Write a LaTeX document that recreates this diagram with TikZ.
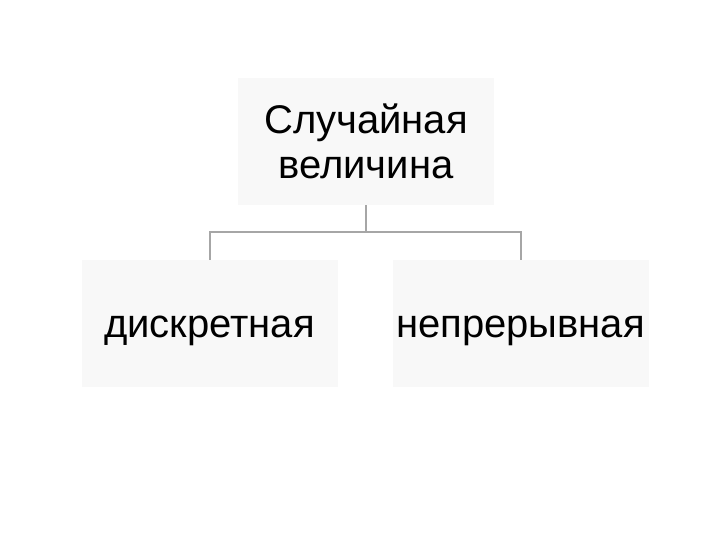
\documentclass[tikz,border=0pt]{standalone}
\usepackage{fontspec}
\setmainfont{Liberation Sans}
\begin{document}
\begin{tikzpicture}[x=1pt,y=1pt,
  box/.style={fill=boxgray, draw=none, minimum width=256pt, minimum height=127pt, inner sep=0pt, align=center, font=\fontsize{40}{45}\selectfont},
  leaf/.style={box, text height=32pt, text depth=3pt},
  conn/.style={draw=linegray, line width=2pt}]
\definecolor{boxgray}{HTML}{F8F8F8}
\definecolor{linegray}{HTML}{A6A6A6}
\useasboundingbox (0,0) rectangle (720,540);
\node[box] (top) at (366,398.5) {Случайная\\величина};
\node[leaf] (left) at (209.5,216.5) {дискретная};
\node[leaf] (right) at (520.5,216.5) {непрерывная};
\coordinate (j) at (366,308);
\draw[conn] (top.south) -- (j);
\draw[conn] (left.north) |- (j) -| (right.north);
\end{tikzpicture}
\end{document}
